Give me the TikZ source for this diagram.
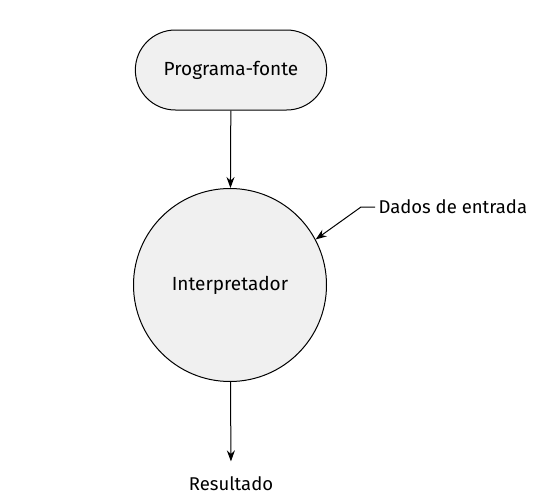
\documentclass[tikz,border=0pt]{standalone}
\usepackage{fontspec}
\setmainfont{Fira Sans}
\usetikzlibrary{shapes.misc,arrows.meta}
\tikzset{
  block/.style={draw, line width=1pt, fill=gray!12, font=\fontsize{19}{22}\selectfont},
  label/.style={font=\fontsize{18.5}{22}\selectfont},
  flow/.style={line width=1pt, -{Stealth[length=11pt, width=8pt]}}
}
\begin{document}
\begin{tikzpicture}[x=1pt, y=-1pt]
  \filldraw[fill=white, draw=none] (0,0) rectangle (552,501);
  \node[block, rounded rectangle, minimum width=198pt, minimum height=80pt] (fonte) at (231,70) {Programa-fonte};
  \node[block, circle, minimum size=193pt] (interp) at (230,285) {Interpretador};
  \node[label, anchor=west] (dados) at (375,207) {Dados de entrada};
  \node[label] (res) at (231,484) {Resultado};
  \coordinate (kink) at (361,207);
  \draw[flow] (fonte) -- (interp);
  \draw[flow] (dados.west) -- (kink) -- (interp.28);
  \draw[flow, shorten >=12pt] (interp) -- (res.north);
\end{tikzpicture}
\end{document}
